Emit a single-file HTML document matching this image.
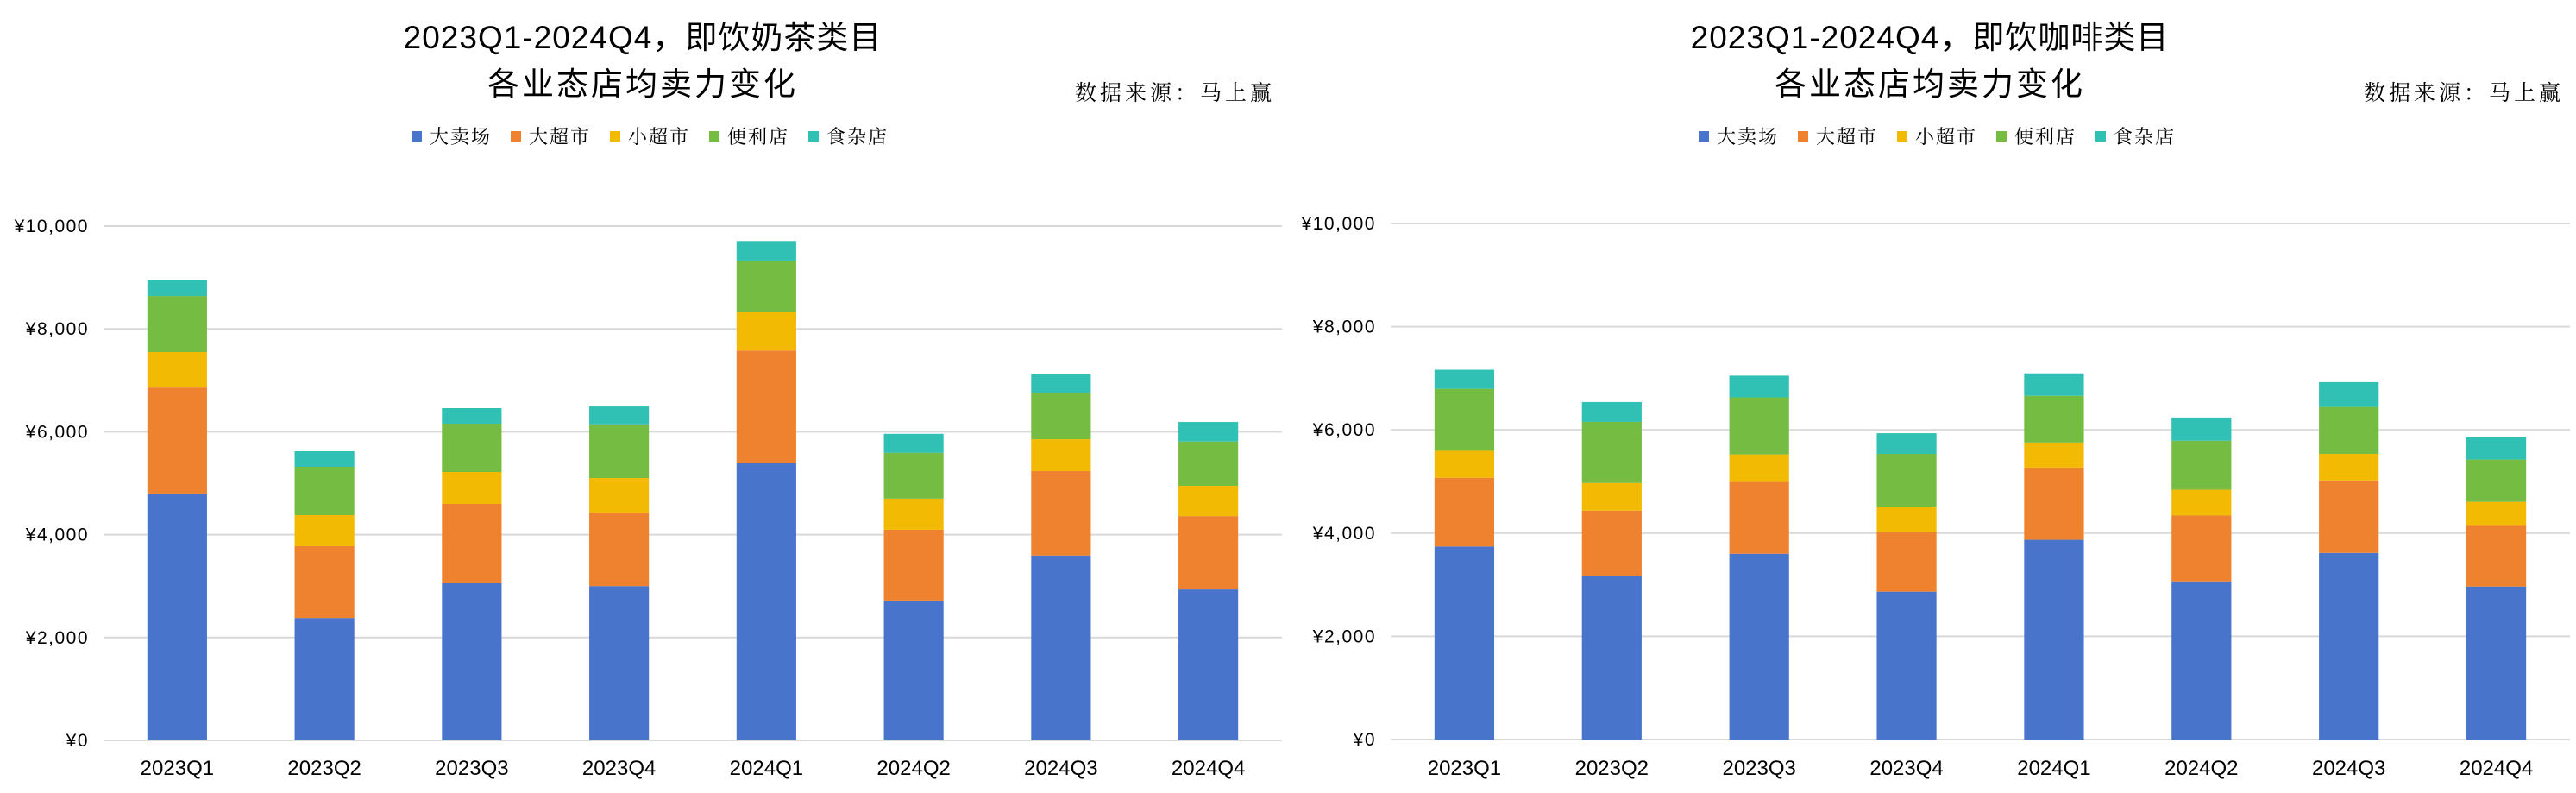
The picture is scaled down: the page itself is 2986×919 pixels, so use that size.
<!DOCTYPE html>
<html><head><meta charset="utf-8">
<style>
html,body{margin:0;padding:0;background:#fff;}
svg{display:block;}
.t{font-family:"Liberation Sans","Noto Sans CJK SC",sans-serif;fill:#000;}
.s{font-family:"Liberation Serif","Noto Serif CJK SC",serif;fill:#000;}
</style></head>
<body>
<svg id="root" width="2986" height="919" viewBox="0 0 2986 919" xmlns="http://www.w3.org/2000/svg"></svg>
<script>
const categories = ["2023Q1","2023Q2","2023Q3","2023Q4","2024Q1","2024Q2","2024Q3","2024Q4"];
const seriesNames = ["大卖场","大超市","小超市","便利店","食杂店"];
const yTicks = [0,2000,4000,6000,8000,10000];
const yTickLabels = ["¥0","¥2,000","¥4,000","¥6,000","¥8,000","¥10,000"];
// 即饮奶茶
const teaHyper = [4800,2380,3054,3000,5400,2720,3595,2935];
const teaSuper = [2060,1395,1543,1430,2180,1375,1640,1425];
const teaMini  = [690,604,621,670,755,605,620,590];
const teaConv  = [1090,940,940,1045,995,890,895,860];
const teaGroc  = [310,302,302,347,380,370,365,380];
// 即饮咖啡
const cofHyper = [3740,3165,3600,2865,3870,3065,3615,2965];
const cofSuper = [1330,1270,1390,1150,1400,1275,1405,1190];
const cofMini  = [525,535,535,500,485,500,515,450];
const cofConv  = [1200,1185,1105,1020,905,950,910,820];
const cofGroc  = [370,385,420,400,435,450,480,435];

const colors = ["#4874CB","#EE822F","#F2BA02","#75BD42","#30C0B4"];
const NS = "http://www.w3.org/2000/svg";
const root = document.getElementById('root');
function mk(tag, attrs, parent, text){
  const e = document.createElementNS(NS, tag);
  for (const k in attrs) e.setAttribute(k, attrs[k]);
  if (text !== undefined) e.textContent = text;
  (parent||root).appendChild(e);
  return e;
}

function drawChart(cfg){
  const g = mk('g', {});
  
  
  const yScale = v => cfg.y0 - (v/10000)*(cfg.y0 - cfg.y10k);
  const band = (cfg.x1 - cfg.x0)/categories.length;
  const xCenter = i => cfg.x0 + band*(i+0.5);
  const bw = band*0.405;

  const t1 = mk('text', {x:cfg.tcx, y:56, 'text-anchor':'middle', 'font-size':37, 'class':'t', 'letter-spacing':1}, g, cfg.title1);
  
  
  const t2 = mk('text', {x:cfg.tcx, y:110, 'text-anchor':'middle', 'font-size':37, 'class':'t', 'letter-spacing':3}, g, "各业态店均卖力变化");
  
  
  const src = mk('text', {x:cfg.srcX, y:116, 'text-anchor':'end', 'font-size':25, 'class':'s', 'letter-spacing':4}, g, "数据来源：马上赢");
  
  

  seriesNames.forEach((n, k) => {
    const lg = mk('g', {}, g);
    
    
    const lx = cfg.legX + k*115;
    mk('rect', {x:lx, y:152, width:12, height:12, fill:colors[k]}, lg);
    mk('text', {x:lx+21, y:166, 'font-size':22, 'class':'s', 'letter-spacing':2}, lg, n);
  });

  yTicks.forEach((v, i) => {
    const y = yScale(v);
    const gl = mk('line', {x1:cfg.x0, x2:cfg.x1, y1:y, y2:y, stroke:'#d9d9d9', 'stroke-width':2}, g);
    
    
    const tl = mk('text', {x:cfg.x0-17, y:y+7, 'text-anchor':'end', 'font-size':21, 'class':'t', 'letter-spacing':1.5}, g, yTickLabels[i]);
    
    
  });

  categories.forEach((c, i) => {
    let acc = 0;
    cfg.series.forEach((arr, k) => {
      const v = arr[i];
      const yTop = yScale(acc + v), yBot = yScale(acc);
      const r = mk('rect', {x:xCenter(i)-bw/2, y:yTop, width:bw, height:yBot-yTop, fill:colors[k]}, g);
      
      
      acc += v;
    });
    const xl = mk('text', {x:xCenter(i), y:898, 'text-anchor':'middle', 'font-size':24, 'class':'t'}, g, c);
    
    
  });
}

drawChart({name:'milk-tea-chart', title1:"2023Q1-2024Q4，即饮奶茶类目", tcx:745, srcX:1478, legX:477,
  x0:120, x1:1486, y0:858, y10k:262,
  series:[teaHyper, teaSuper, teaMini, teaConv, teaGroc]});
drawChart({name:'coffee-chart', title1:"2023Q1-2024Q4，即饮咖啡类目", tcx:2237, srcX:2972, legX:1969,
  x0:1612, x1:2979, y0:857, y10k:259,
  series:[cofHyper, cofSuper, cofMini, cofConv, cofGroc]});
</script>
</body></html>
